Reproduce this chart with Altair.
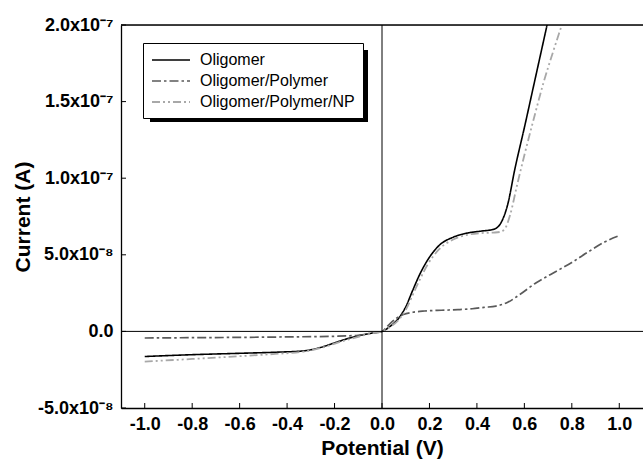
import altair as alt
import pandas as pd

# ---------------- data (current values in units of 1e-8 A) ----------------
series_names = ["Oligomer", "Oligomer/Polymer", "Oligomer/Polymer/NP"]

v_olig = [-1.0, -0.8, -0.6, -0.45, -0.33, -0.26, -0.2, -0.14, -0.08, -0.03, 0.0,
          0.04, 0.07, 0.1, 0.13, 0.16, 0.19, 0.24, 0.3, 0.36, 0.42, 0.47, 0.5,
          0.53, 0.56, 0.6, 0.64, 0.68, 0.72]
i_olig = [-1.64, -1.52, -1.43, -1.36, -1.27, -1.05, -0.75, -0.45, -0.22, -0.08, 0.0,
          0.4, 0.85, 1.6, 2.7, 3.75, 4.6, 5.6, 6.15, 6.42, 6.55, 6.66, 7.05,
          8.3, 10.6, 13.3, 16.1, 18.9, 21.7]

v_poly = [-1.0, -0.8, -0.6, -0.4, -0.2, -0.1, -0.05, 0.0, 0.03, 0.06, 0.09, 0.13,
          0.18, 0.25, 0.32, 0.38, 0.43, 0.48, 0.53, 0.58, 0.65, 0.72, 0.8, 0.87,
          0.94, 1.0]
i_poly = [-0.43, -0.41, -0.39, -0.36, -0.32, -0.25, -0.13, 0.0, 0.45, 0.85, 1.1, 1.25,
          1.33, 1.38, 1.42, 1.48, 1.57, 1.65, 1.9, 2.4, 3.18, 3.8, 4.5, 5.2,
          5.85, 6.25]

v_np = [-1.0, -0.8, -0.6, -0.45, -0.33, -0.25, -0.18, -0.1, -0.04, 0.0, 0.04, 0.07,
        0.1, 0.13, 0.16, 0.19, 0.24, 0.3, 0.36, 0.42, 0.47, 0.5, 0.52, 0.54, 0.57,
        0.6, 0.64, 0.68, 0.72, 0.76, 0.8]
i_np = [-1.97, -1.8, -1.62, -1.47, -1.32, -1.05, -0.7, -0.35, -0.12, 0.0, 0.35, 0.75,
        1.4, 2.4, 3.4, 4.3, 5.35, 6.0, 6.3, 6.42, 6.45, 6.5, 6.75, 7.6, 9.6,
        11.5, 13.9, 16.2, 18.2, 20.1, 22.0]

x_ticks = [-1.0, -0.8, -0.6, -0.4, -0.2, 0.0, 0.2, 0.4, 0.6, 0.8, 1.0]
y_ticks = [-5e-8, 0.0, 5e-8, 1e-7, 1.5e-7, 2e-7]
y_tick_labels = ["-5.0x10\u207b\u2078", "0.0", "5.0x10\u207b\u2078",
                 "1.0x10\u207b\u2077", "1.5x10\u207b\u2077", "2.0x10\u207b\u2077"]

colors = ["#000000", "#5a5a5a", "#a8a8a8"]
dashes = [[1, 0], [9, 3, 2.5, 3], [8, 3, 2, 3, 2, 3]]
widths = [1.6, 1.8, 1.8]

# ---------------- table ----------------
rows = []
for name, vs, cs in zip(series_names, [v_olig, v_poly, v_np], [i_olig, i_poly, i_np]):
    for k, (v, c) in enumerate(zip(vs, cs)):
        rows.append({"series": name, "V": v, "I": c * 1e-8, "k": k})
df = pd.DataFrame(rows)

W, H = 522, 383
TICK = 5
FONT = "Liberation Sans"

xscale = alt.Scale(domain=[-1.1, 1.1], nice=False, zero=False)
yscale = alt.Scale(domain=[-5e-8, 2e-7], nice=False, zero=False)

ylabel_expr = ""
for val, lab in zip(y_ticks, y_tick_labels):
    ylabel_expr += f"abs(datum.value - ({val})) < 1e-12 ? '{lab}' : "
ylabel_expr += "''"

x_axis = alt.Axis(orient="bottom", values=x_ticks, ticks=False, grid=False,
                  domain=True, domainColor="#000", domainWidth=1.3,
                  labelExpr="replace(format(datum.value, '.1f'), '\u2212', '-')",
                  labelFont=FONT, labelFontWeight="bold", labelFontSize=18,
                  labelColor="#000", labelPadding=7,
                  title="Potential (V)", titleFont=FONT, titleFontWeight="bold",
                  titleFontSize=21, titleColor="#000", titlePadding=4)
y_axis = alt.Axis(orient="left", values=y_ticks, ticks=False, grid=False,
                  domain=True, domainColor="#000", domainWidth=1.3,
                  labelExpr=ylabel_expr,
                  labelFont=FONT, labelFontWeight="bold", labelFontSize=18,
                  labelColor="#000", labelPadding=8,
                  title="Current (A)", titleFont=FONT, titleFontWeight="bold",
                  titleFontSize=21, titleColor="#000", titlePadding=4)

# legend geometry (pixels, relative to the plot area)
LX, LY, LPAD, SYM = 22, 18, 8, 16
legend = alt.Legend(title=None, orient="none", legendX=LX, legendY=LY,
                    symbolType="M-1,0L3.75,0", symbolSize=SYM * SYM,
                    symbolStrokeWidth=1.6, symbolFillColor="transparent",
                    labelFont=FONT, labelFontSize=16, labelColor="#000",
                    labelOffset=31, rowPadding=4, padding=LPAD,
                    strokeColor="#000", fillColor="#fff")

lines = alt.Chart(df).mark_line(interpolate="monotone", clip=True).encode(
    x=alt.X("V:Q", scale=xscale, axis=x_axis, title="Potential (V)"),
    y=alt.Y("I:Q", scale=yscale, axis=y_axis, title="Current (A)"),
    order="k:Q",
    color=alt.Color("series:N", scale=alt.Scale(domain=series_names, range=colors),
                    legend=legend),
    strokeDash=alt.StrokeDash("series:N",
                              scale=alt.Scale(domain=series_names, range=dashes),
                              legend=legend),
    strokeWidth=alt.StrokeWidth("series:N",
                                scale=alt.Scale(domain=series_names, range=widths),
                                legend=None),
)

one = pd.DataFrame({"a": [0]})

# zero lines and top frame line
vzero = alt.Chart(one).mark_rule(color="#000", strokeWidth=1).encode(
    x=alt.XDatum(0, scale=xscale, axis=x_axis, title="Potential (V)"))
hzero = alt.Chart(one).mark_rule(color="#000", strokeWidth=1).encode(
    y=alt.YDatum(0, scale=yscale, axis=y_axis, title="Current (A)"))
top_rule = alt.Chart(one).mark_rule(color="#000", strokeWidth=1.3).encode(
    y=alt.YDatum(2e-7, scale=yscale, axis=y_axis, title="Current (A)"))

# inward tick marks at the tick values
xtick_marks = alt.Chart(pd.DataFrame({"t": x_ticks})).mark_rule(
    color="#000", strokeWidth=1).encode(
    x=alt.X("t:Q", scale=xscale, axis=x_axis, title="Potential (V)"),
    y=alt.value(H - TICK), y2=alt.value(H))
ytick_marks = alt.Chart(pd.DataFrame({"t": y_ticks})).mark_rule(
    color="#000", strokeWidth=1).encode(
    y=alt.Y("t:Q", scale=yscale, axis=y_axis, title="Current (A)"),
    x=alt.value(0), x2=alt.value(TICK))

# legend drop shadow
BOX_W, BOX_H, SH = 218, 72, 7
shadow = alt.Chart(one).mark_rect(color="#000").encode(
    x=alt.value(LX + SH), x2=alt.value(LX + SH + BOX_W),
    y=alt.value(LY + SH), y2=alt.value(LY + SH + BOX_H),
)

chart = alt.layer(shadow, lines, vzero, hzero, top_rule, xtick_marks,
                  ytick_marks).properties(
    width=W, height=H,
    autosize=alt.AutoSizeParams(type="none"),
    padding={"left": 121, "top": 25, "right": 0, "bottom": 52},
).configure_view(stroke=None).configure(background="#ffffff")

chart.save("out.html", embed_options={"renderer": "svg", "actions": False})
